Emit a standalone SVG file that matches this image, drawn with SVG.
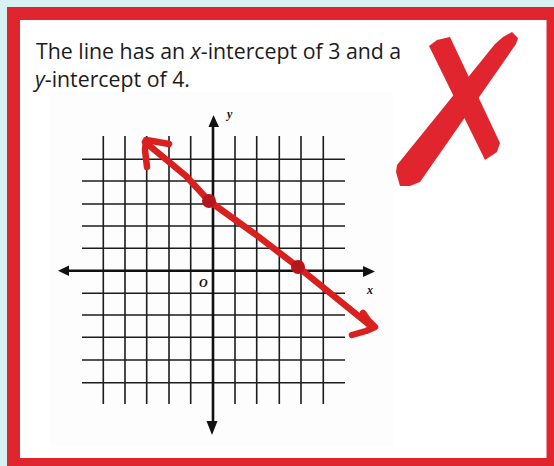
<svg xmlns="http://www.w3.org/2000/svg" width="554" height="466" viewBox="0 0 554 466">
<defs>
<style>
.grid{stroke:#1c1c1c;stroke-width:1.6;fill:none}
.axis{stroke:#111;stroke-width:2.6;fill:none}
.head{fill:#111}
.lbl{font-family:"Liberation Serif",serif;font-style:italic;font-weight:bold;fill:#111}
.txt{font-family:"Open Sans","Noto Sans",sans-serif;font-size:21.3px;fill:#1b1b1b}
.redline{stroke:#d8201f;stroke-width:6.5;fill:none;stroke-linecap:round;stroke-linejoin:round}
.dot{fill:#b5161b}
.xmark{fill:#e1252e}
</style>
</defs>
<rect x="0" y="0" width="554" height="466" fill="#d8f1f2"/>
<g id="frame">
<rect x="7" y="7" width="560" height="470" fill="#e1252e"/>
<rect x="20" y="20" width="526.5" height="438" fill="#ffffff"/>
<rect x="50" y="92" width="343" height="355" fill="#fdfdfd"/>
</g>
<g id="statement">
<text class="txt" x="36" y="59">The line has an <tspan font-style="italic">x</tspan>-intercept of 3 and a</text>
<text class="txt" x="35" y="87"><tspan font-style="italic">y</tspan>-intercept of 4.</text>
</g>
<g id="graph">
<g id="grid">
<path class="grid" d="M103.3 136V404M125 136V404M146.7 136V404M169 136V404M190.7 136V404M235 136V404M256.7 136V404M279.3 136V404M301 136V404M323.3 136V404"/>
<path class="grid" d="M82 159.3H345M82 181H345M82 204H345M82 226H345M82 248.3H345M82 293.3H345M82 315H345M82 337.3H345M82 360H345M82 382.7H345"/>
</g>
<g id="axes">
<path class="axis" d="M66 270.7H365"/>
<polygon class="head" points="58,270.7 69,265.5 69,276"/>
<polygon class="head" points="375,271.5 363,266 363,277"/>
<path class="axis" d="M213 124V424"/>
<polygon class="head" points="213.5,115 208.5,127 219,127"/>
<polygon class="head" points="212,435 206.5,421 217.5,421"/>
<text class="lbl" x="227" y="118" font-size="12">y</text>
<text class="lbl" x="367" y="294" font-size="12">x</text>
<text class="lbl" x="199" y="287" font-size="12">O</text>
</g>
</g>
<g id="connectors">
<path class="redline" d="M145 142L186 176L209 201L255 234L298 267L372 327"/>
<path class="redline" d="M169 144L158 142L146 140L145 150L147 167"/>
<path class="redline" d="M363 313L368 320L375 327L366 331L352 335"/>
<circle class="dot" cx="209" cy="201" r="7"/>
<circle class="dot" cx="298" cy="267" r="7"/>
</g>
<g id="xmark">
<polygon class="xmark" points="429,46 437,40 450,37 500,143 497,152 485,160"/>
<polygon class="xmark" points="495,44 503,37 512,32 518,38 516,44 420,182 410,186 400,186 396,172 397,165"/>
</g>
</svg>
